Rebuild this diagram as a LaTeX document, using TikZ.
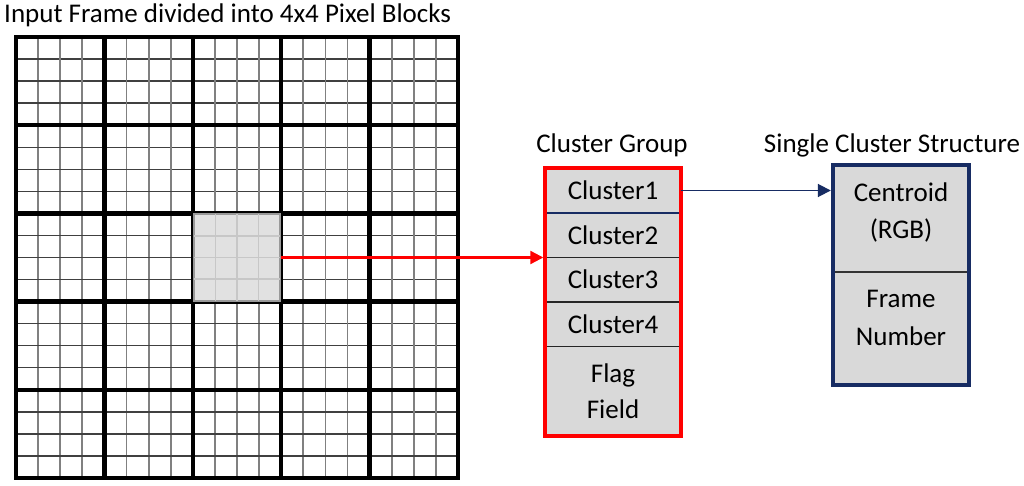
\documentclass[tikz,border=0pt]{standalone}
\usepackage{fontspec}
\setmainfont{Carlito}
\usetikzlibrary{arrows.meta}
\definecolor{navy}{RGB}{23,44,99}
\definecolor{cellgray}{RGB}{217,217,217}
\definecolor{blkgray}{RGB}{225,225,225}
\definecolor{arrred}{RGB}{255,0,0}
\begin{document}
\begin{tikzpicture}[x=1pt,y=-1pt,
  font=\fontsize{27}{32}\selectfont,
  vthin/.style={draw=black!50, line width=1.8pt},
  hthin/.style={draw=black!75, line width=1.3pt},
  thick/.style={draw=black, line width=4.5pt, line cap=rect},
  blkstyle/.style={rectangle, fill=blkgray, draw=black!40, line width=2pt, inner sep=0pt},
  blkline/.style={draw=black!22, line width=1.6pt},
  field/.style={rectangle, minimum width=136pt, minimum height=44.5pt, inner sep=0pt, align=center},
  sep/.style={draw=black!85, line width=1.2pt},
  lbl/.style={inner sep=0pt},
  txt/.style={inner sep=0pt, align=center}
]
\useasboundingbox (0,0) rectangle (1024,486);
\fill[white] (0,0) rectangle (1024,486);

% title
\node[lbl, anchor=west] (title) at (4,15) {Input Frame divided into 4x4 Pixel Blocks};

% thin grid lines
\foreach \i in {1,...,19}{
  \draw[vthin] ({16+22.1*\i},37) -- ({16+22.1*\i},478);
  \draw[hthin] (16,{37+22.05*\i}) -- (458,{37+22.05*\i});
}
% thick block lines
\foreach \i in {0,...,5}{
  \draw[thick] ({16+88.4*\i},37) -- ({16+88.4*\i},478);
  \draw[thick] (16,{37+88.2*\i}) -- (458,{37+88.2*\i});
}
% highlighted block
\node[blkstyle, minimum width=86.4pt, minimum height=86.2pt] (blk) at (237,257.5) {};
\foreach \i in {1,2,3}{
  \draw[blkline] ({193.8+21.6*\i},214.4) -- ({193.8+21.6*\i},300.6);
  \draw[blkline] (193.8,{214.4+21.55*\i}) -- (280.2,{214.4+21.55*\i});
}

% cluster group
\node[lbl] (cglabel) at (612,145) {Cluster Group};
\node[rectangle, fill=cellgray, minimum width=136pt, minimum height=268pt, inner sep=0pt] (group) at (613,302) {};
\node[field] (c1) at (613,190.5) {Cluster1};
\node[field] (c2) at (613,235) {Cluster2};
\node[field] (c3) at (613,279.5) {Cluster3};
\node[field] (c4) at (613,324) {Cluster4};
\node[field, minimum height=90pt, font=\fontsize{27}{36}\selectfont] (flag) at (613,391) {Flag\\Field};
\draw[sep] (c2.south west) -- (c2.south east);
\draw[sep] (c3.south west) -- (c3.south east);
\draw[sep] (c4.south west) -- (c4.south east);
\draw[navy, line width=2pt] (c1.south west) rectangle (c1.north east);
\draw[arrred, line width=3.5pt] (group.south west) rectangle (group.north east);

% single cluster structure
\node[lbl] (sclabel) at (892,145) {Single Cluster Structure};
\node[rectangle, fill=cellgray, minimum width=136pt, minimum height=220pt, inner sep=0pt] (single) at (901,275) {};
\draw[draw=black!80, line width=1.5pt] (single.west |- 0,272) -- (single.east |- 0,272);
\draw[navy, line width=4pt] (single.south west) rectangle (single.north east);
\node[txt, font=\fontsize{27}{37}\selectfont] (cent) at (901,212) {Centroid\\(RGB)};
\node[txt, font=\fontsize{27}{38}\selectfont] (fnum) at (901,318) {Frame\\Number};

% arrows
\draw[arrred, line width=2.2pt, -{Triangle[length=13pt,width=13pt]}] (blk.east) -- ([xshift=-1.5pt]group.west |- blk.east);
\draw[navy, line width=1.8pt, -{Triangle[length=13pt,width=13pt]}] (c1.east) -- ([xshift=-2pt]single.west |- c1.east);
\end{tikzpicture}
\end{document}
